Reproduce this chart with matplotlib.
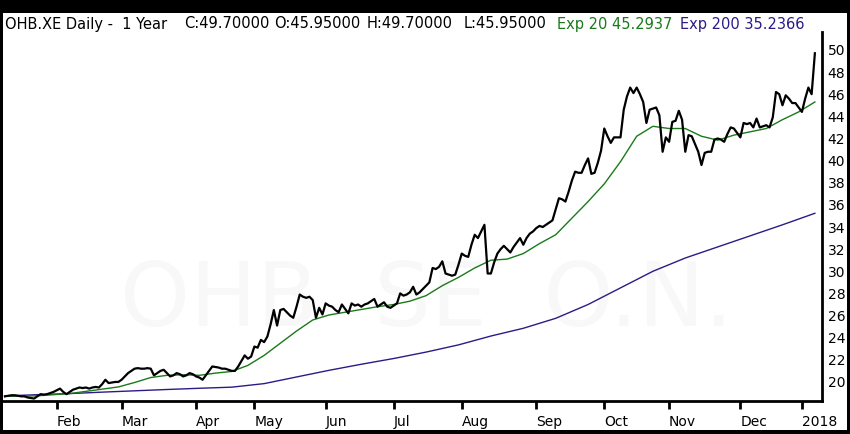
import matplotlib
matplotlib.use('Agg')
import matplotlib.pyplot as plt
import numpy as np
import pandas as pd
from matplotlib.patches import Rectangle

# trading days (Xetra), 10 Jan 2017 - 8 Jan 2018
holidays = ['2017-04-14', '2017-04-17', '2017-05-01', '2017-06-05', '2017-10-03',
            '2017-10-31', '2017-12-25', '2017-12-26', '2018-01-01']
dates = pd.bdate_range('2017-01-10', '2018-01-08')
dates = dates[~dates.isin(pd.to_datetime(holidays))]

close = [
    18.7, 18.75, 18.8, 18.8, 18.75, 18.7, 18.7, 18.6, 18.55, 18.5,
    18.7, 18.9, 18.85, 18.9, 19.0, 19.1, 19.25, 19.4, 19.1, 18.9,
    19.1, 19.3, 19.4, 19.5, 19.45, 19.5, 19.4, 19.5, 19.55, 19.5,
    19.8, 20.2, 19.9, 19.95, 20.0, 20.0, 20.2, 20.5, 20.8, 21.0,
    21.2, 21.25, 21.2, 21.2, 21.25, 21.2, 20.6, 20.8, 21.0, 21.1,
    20.8, 20.5, 20.6, 20.8, 20.7, 20.5, 20.6, 20.8, 20.7, 20.5,
    20.4, 20.2, 20.6, 21.0, 21.4, 21.35, 21.3, 21.2, 21.2, 21.1,
    21.0, 21.0, 21.4, 21.9, 22.4, 22.1, 22.3, 23.2, 23.1, 23.8,
    23.6, 24.1, 25.2, 26.5, 25.1, 26.5, 26.6, 26.3, 26.0, 25.8,
    26.8, 27.9, 27.7, 27.6, 27.7, 27.4, 25.8, 26.7, 26.1, 27.1,
    26.9, 26.8, 26.5, 26.3, 27.0, 26.6, 26.2, 27.1, 26.9, 27.0,
    26.8, 27.0, 27.1, 27.3, 27.5, 26.8, 27.0, 27.2, 26.8, 26.7,
    26.9, 27.1, 28.0, 27.8, 27.9, 28.1, 28.6, 27.9, 28.1, 28.4,
    28.7, 29.0, 30.3, 30.2, 30.4, 30.9, 29.8, 29.7, 29.6, 29.7,
    30.6, 31.6, 31.4, 31.3, 32.4, 33.3, 33.0, 33.6, 34.2, 29.8,
    29.8, 30.8, 31.6, 32.0, 32.3, 32.0, 31.7, 32.2, 32.6, 33.0,
    32.4, 33.0, 33.4, 33.6, 33.9, 34.1, 34.0, 34.2, 34.4, 34.6,
    35.6, 36.6, 36.5, 36.3, 37.2, 38.2, 39.0, 38.9, 38.9, 39.6,
    40.2, 38.8, 38.9, 39.8, 40.9, 42.9, 42.2, 41.6, 42.1, 42.1,
    42.1, 44.6, 45.8, 46.6, 46.1, 46.6, 46.0, 45.3, 43.4, 44.6,
    44.7, 44.8, 44.1, 40.8, 42.1, 41.7, 43.5, 43.6, 44.5, 43.7,
    40.8, 42.3, 42.2, 41.5, 40.8, 39.6, 40.7, 40.8, 40.8, 41.9,
    42.0, 41.9, 41.7, 42.4, 43.0, 42.9, 42.5, 42.1, 43.4, 43.3,
    43.4, 43.0, 43.8, 43.0, 43.1, 43.2, 43.0, 43.9, 46.2, 46.0,
    45.0, 45.9, 45.6, 45.2, 45.2, 44.8, 44.4, 45.6, 46.6, 46.0,
    49.7,
]

# Exp 20 read every 5 trading days
ema20_step = 5
ema20 = [18.7, 18.72, 18.75, 18.85, 18.95, 19.15, 19.35, 19.55, 19.95, 20.4,
         20.6, 20.65, 20.6, 20.8, 20.95, 21.5, 22.4, 23.5, 24.6, 25.6,
         26.05, 26.3, 26.55, 26.8, 27.0, 27.3, 27.8, 28.7, 29.45, 30.3,
         31.0, 31.1, 31.6, 32.5, 33.3, 34.8, 36.3, 37.9, 39.9, 42.2,
         43.1, 42.9, 42.9, 42.2, 41.85, 42.3, 42.6, 42.9, 43.7, 44.4,
         45.3]

# Exp 200 read every 10 trading days
ema200_step = 10
ema200 = [18.74, 18.85, 18.95, 19.08, 19.2, 19.32, 19.43, 19.53, 19.85, 20.45,
          21.05, 21.6, 22.12, 22.7, 23.35, 24.15, 24.85, 25.75, 27.0, 28.5,
          30.0, 31.2, 32.2, 33.2, 34.2, 35.24]

yticks = [20, 22, 24, 26, 28, 30, 32, 34, 36, 38, 40, 42, 44, 46, 48, 50]

green = '#1a7a1a'
purple = '#2e1a87'

W, H = 850, 434
fig = plt.figure(figsize=(W / 100, H / 100), dpi=100, facecolor='black')
fig.patches.append(Rectangle((3 / W, 4 / H), 844 / W, 417 / H, transform=fig.transFigure,
                             facecolor='white', edgecolor='none', zorder=-5))

ax = fig.add_axes([3 / W, (H - 401) / H, 819 / W, 369 / H])
ax.set_zorder(2)
ax.set_facecolor('white')

x = np.arange(len(dates))
# faint watermark
ax.text(130, 27.3, 'OHB  SE  O.N.', fontsize=64, color='#f8f8f8', ha='center', va='center', zorder=0)
ax.plot(x[::ema200_step], ema200, color=purple, lw=1.0, zorder=2)
ax.plot(x[::ema20_step], ema20, color=green, lw=1.0, zorder=3)
ax.plot(x, close, color='black', lw=1.6, zorder=4)

ax.set_xlim(-0.6, 252.2)
ax.set_ylim(18.28, 51.62)

# month ticks at first trading day of each month
months = dates.to_period('M')
tick_pos = [i for i in range(1, len(dates)) if months[i] != months[i - 1]]
tick_lab = ['2018' if dates[i].month == 1 else dates[i].strftime('%b') for i in tick_pos]
ax.set_xticks(tick_pos)
ax.set_xticklabels(tick_lab, ha='left', fontsize=10)
ax.tick_params(axis='x', direction='out', length=6, width=2, pad=4)

ax.yaxis.tick_right()
ax.set_yticks(yticks)
ax.set_yticklabels([str(v) for v in yticks], fontsize=10)
ax.tick_params(axis='y', length=0, pad=4)

for s in ['left', 'top']:
    ax.spines[s].set_visible(False)
for s in ['bottom', 'right']:
    ax.spines[s].set_linewidth(2)

ty = 1 - 24 / H
fig.text(5 / W, ty, 'OHB.XE Daily -  1 Year', fontsize=10.5, va='center')
fig.text(184 / W, ty, 'C:49.70000', fontsize=10.5, va='center')
fig.text(274 / W, ty, 'O:45.95000', fontsize=10.5, va='center')
fig.text(367 / W, ty, 'H:49.70000', fontsize=10.5, va='center')
fig.text(464 / W, ty, 'L:45.95000', fontsize=10.5, va='center')
fig.text(557 / W, ty, 'Exp 20 45.2937', fontsize=10.5, va='center', color=green)
fig.text(680 / W, ty, 'Exp 200 35.2366', fontsize=10.5, va='center', color=purple)

fig.savefig('out.png', dpi=100, facecolor='black')
